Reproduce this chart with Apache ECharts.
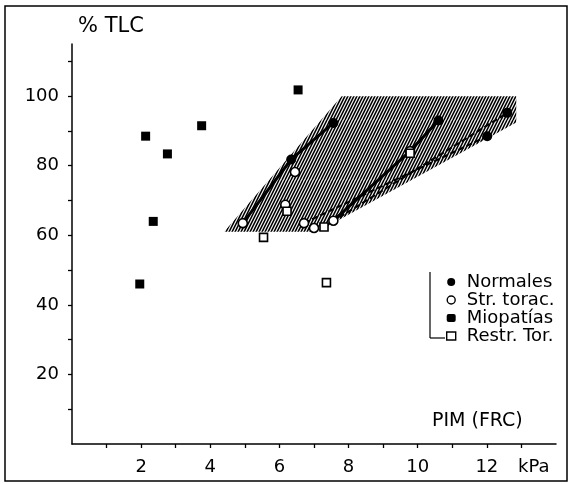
<!DOCTYPE html>
<html>
<head>
<meta charset="utf-8">
<script src="https://cdn.jsdelivr.net/npm/echarts@6/dist/echarts.min.js"></script>
<style>html,body{margin:0;padding:0;background:#fff}#c{width:572px;height:484px}</style>
</head>
<body>
<div id="c"></div>
<script>
// ---- data (kPa, %TLC) ----
const normales = [[6.34,81.8],[7.56,92.3],[10.60,93.0],[12.59,95.2],[12.01,88.5]];
const strTorac = [[4.94,63.5],[6.45,78.2],[6.17,68.8],[6.71,63.5],[7.00,62.1],[7.56,64.2],[9.78,84.2]];
const miopatias = [[2.35,64.0],[1.96,46.0],[2.13,88.5],[2.76,83.4],[3.75,91.5],[6.54,101.8]];
const restrTor = [[5.54,59.4],[7.36,46.4],[6.22,66.9],[7.29,62.4],[9.78,83.6]];
const solidLinks = [
  [[4.94,63.5],[6.34,81.8]],
  [[6.34,81.8],[7.56,92.3]],
  [[7.56,64.2],[9.78,84.2],[10.60,93.0]]
];
const dashedLinks = [
  [[7.29,62.4],[12.59,95.2]],
  [[6.71,63.5],[12.01,88.5]]
];
const hatchRegion = [[4.4,61],[7.8,100],[12.85,100],[12.85,92.4],[7.1,61]];
const xTicks = [1,2,3,4,5,6,7,8,9,10,11,12,13];
const xLabels = [2,4,6,8,10,12];
const yTicks = [10,20,30,40,50,60,70,80,90,100,110];
const yLabels = [20,40,60,80,100];
const legendNames = ['Normales','Str. torac.','Miopatías','Restr. Tor.'];

// ---- hatch pattern ----
const pc = document.createElement('canvas');
pc.width = 30; pc.height = 60;
const pctx = pc.getContext('2d');
pctx.strokeStyle = '#000';
pctx.lineWidth = 1.6;
for (let x0 = -33; x0 <= 63; x0 += 3) {
  pctx.beginPath();
  pctx.moveTo(x0, 60);
  pctx.lineTo(x0 + 30, 0);
  pctx.stroke();
}

const FONT = 'DejaVu Sans';
const INK = '#000';
const chart = echarts.init(document.getElementById('c'), null, {renderer: 'canvas'});

const series = [];
series.push({
  type: 'custom',
  silent: true,
  z: 1,
  data: [0],
  renderItem: function (params, api) {
    const pts = hatchRegion.map(p => api.coord(p));
    return {type: 'polygon', shape: {points: pts}, style: {fill: {image: pc, repeat: 'repeat'}}};
  }
});
solidLinks.forEach(seg => series.push({
  type: 'line', data: seg, symbol: 'none', z: 3, silent: true,
  lineStyle: {color: INK, width: 3, opacity: 1}
}));
dashedLinks.forEach(seg => series.push({
  type: 'line', data: seg, symbol: 'none', z: 3, silent: true,
  lineStyle: {color: INK, width: 2, type: [6, 3], opacity: 1}
}));
series.push({name: 'Normales', type: 'scatter', data: normales, symbol: 'circle', symbolSize: 10, z: 5,
  itemStyle: {color: INK, opacity: 1}});
series.push({name: 'Str. torac.', type: 'scatter', data: strTorac, symbol: 'circle', symbolSize: 9, z: 6,
  itemStyle: {color: '#fff', borderColor: INK, borderWidth: 1.6, opacity: 1}});
series.push({name: 'Miopatías', type: 'scatter', data: miopatias, symbol: 'rect', symbolSize: 9, z: 5,
  itemStyle: {color: INK, opacity: 1}});
series.push({name: 'Restr. Tor.', type: 'scatter', data: restrTor, symbol: 'rect', symbolSize: 8, z: 6,
  itemStyle: {color: '#fff', borderColor: INK, borderWidth: 1.6, opacity: 1}});

chart.setOption({
  animation: false,
  backgroundColor: '#fff',
  textStyle: {fontFamily: FONT},
  grid: {left: 72, right: 16, top: 44, bottom: 40},
  title: {text: '% TLC', left: 73, top: 11,
    textStyle: {fontFamily: FONT, fontSize: 21, fontWeight: 'normal', color: INK}},
  legend: {
    orient: 'vertical', left: 441, top: 268, itemWidth: 9, itemHeight: 8, itemGap: 0,
    data: [
      {name: legendNames[0], icon: 'circle', itemStyle: {color: INK, opacity: 1}},
      {name: legendNames[1], icon: 'circle', itemStyle: {color: '#fff', borderColor: INK, borderWidth: 1.4}},
      {name: legendNames[2], icon: 'roundRect', itemStyle: {color: INK, opacity: 1}},
      {name: legendNames[3], icon: 'rect', itemStyle: {color: '#fff', borderColor: INK, borderWidth: 1.4}}
    ],
    textStyle: {fontFamily: FONT, fontSize: 18, color: INK, padding: [0, 0, 0, 6]},
    selectedMode: false
  },
  xAxis: {
    type: 'value', min: 0, max: 14, interval: 1,
    axisLine: {lineStyle: {color: INK, width: 1.5}},
    axisTick: {show: true, inside: false, length: 4, customValues: xTicks, lineStyle: {color: INK, width: 1.3}},
    axisLabel: {customValues: xLabels, margin: 14, fontFamily: FONT, fontSize: 18, color: INK},
    splitLine: {show: false}
  },
  yAxis: {
    type: 'value', min: 0, max: 115, interval: 10,
    axisLine: {show: true, lineStyle: {color: INK, width: 1.5}},
    axisTick: {show: true, inside: false, length: 4, customValues: yTicks, lineStyle: {color: INK, width: 1.3}},
    axisLabel: {customValues: yLabels, margin: 13, fontFamily: FONT, fontSize: 18, color: INK},
    splitLine: {show: false}
  },
  graphic: [
    {type: 'rect', shape: {x: 5, y: 6, width: 562, height: 475}, style: {fill: 'none', stroke: INK, lineWidth: 1.5}},
    {type: 'line', shape: {x1: 430, y1: 272, x2: 430, y2: 338}, style: {stroke: INK, lineWidth: 1.2}},
    {type: 'line', shape: {x1: 430, y1: 338, x2: 445, y2: 338}, style: {stroke: INK, lineWidth: 1.2}},
    {type: 'text', left: 432, top: 412, style: {text: 'PIM (FRC)', fontFamily: FONT, fontSize: 19, fill: INK}},
    {type: 'text', left: 518, top: 458, style: {text: 'kPa', fontFamily: FONT, fontSize: 18, fill: INK}}
  ],
  series: series
});
</script>
</body>
</html>
